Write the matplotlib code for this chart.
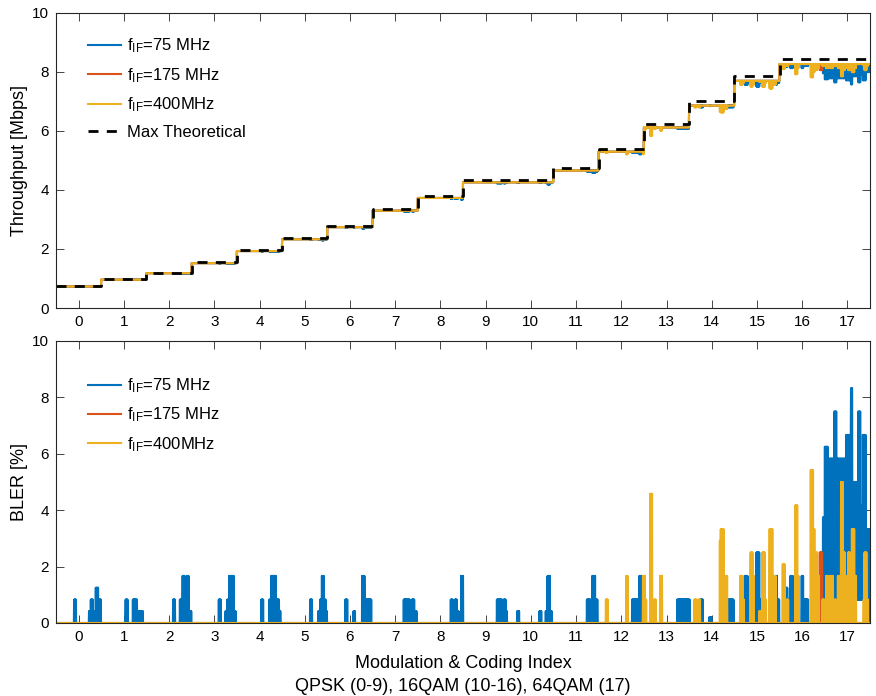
import numpy as np
import matplotlib
matplotlib.use("Agg")
import matplotlib.pyplot as plt

plt.rcParams['font.family'] = ['Liberation Sans', 'DejaVu Sans']
plt.rcParams['mathtext.fontset'] = 'custom'
plt.rcParams['mathtext.rm'] = 'Liberation Sans'
plt.rcParams['mathtext.it'] = 'Liberation Sans'

# ---------------- data ----------------
mcs_ticks = list(range(18))
theoretical = [0.75, 0.98, 1.20, 1.55, 1.97, 2.38, 2.79, 3.37, 3.80, 4.34,
               4.34, 4.75, 5.40, 6.25, 7.00, 7.86, 8.43, 8.43]
measured_level = [0.73, 0.96, 1.18, 1.52, 1.93, 2.33, 2.74, 3.30, 3.73, 4.26,
                  4.26, 4.66, 5.30, 6.12, 6.86, 7.70, 8.27, 8.27]

# BLER bursts (start MCS, end MCS, peak BLER %)
bler_75 = [
    (-0.10, -0.05, 0.83), (0.23, 0.27, 0.42), (0.27, 0.32, 0.83), (0.32, 0.38, 0.42),
    (0.38, 0.44, 1.25), (0.44, 0.50, 0.83),
    (1.04, 1.09, 0.83), (1.20, 1.30, 0.83), (1.32, 1.43, 0.42),
    (2.09, 2.14, 0.83), (2.24, 2.30, 0.83), (2.30, 2.35, 1.67), (2.35, 2.39, 0.83),
    (2.39, 2.44, 1.67), (2.44, 2.50, 0.42),
    (3.10, 3.15, 0.83), (3.25, 3.29, 0.42), (3.29, 3.33, 0.83), (3.33, 3.44, 1.67),
    (3.44, 3.48, 0.42),
    (4.04, 4.09, 0.83), (4.22, 4.26, 0.83), (4.26, 4.37, 1.67), (4.37, 4.44, 0.83),
    (4.44, 4.47, 0.42),
    (5.12, 5.17, 0.83), (5.30, 5.34, 0.42), (5.34, 5.38, 0.83), (5.38, 5.43, 1.67),
    (5.43, 5.47, 0.83), (5.47, 5.50, 0.42),
    (5.90, 5.95, 0.83), (6.08, 6.12, 0.42), (6.27, 6.33, 1.67), (6.33, 6.48, 0.83),
    (7.19, 7.33, 0.83), (7.37, 7.43, 0.83), (7.43, 7.48, 0.42),
    (8.23, 8.28, 0.83), (8.32, 8.37, 0.83), (8.37, 8.41, 0.42), (8.46, 8.51, 1.67),
    (9.25, 9.37, 0.83), (9.40, 9.45, 0.83), (9.45, 9.48, 0.42), (9.70, 9.75, 0.42),
    (10.19, 10.24, 0.42), (10.33, 10.37, 0.42), (10.37, 10.43, 1.67), (10.43, 10.47, 0.42),
    (11.24, 11.33, 0.83), (11.33, 11.36, 0.42), (11.36, 11.43, 1.67), (11.43, 11.48, 0.83),
    (12.24, 12.40, 0.83), (12.40, 12.45, 1.67), (12.45, 12.48, 0.83),
    (13.24, 13.52, 0.83), (13.75, 13.81, 0.83), (13.95, 14.00, 0.21),
    (14.36, 14.49, 0.83), (14.73, 14.80, 1.67), (14.99, 15.06, 2.50), (15.06, 15.12, 0.83),
    (15.41, 15.45, 1.67), (15.45, 15.50, 0.83), (15.63, 15.68, 1.25), (15.68, 15.73, 0.83),
    (15.74, 15.80, 1.67), (15.80, 15.85, 0.83), (15.99, 16.03, 1.67), (16.03, 16.14, 0.83),
    (16.28, 16.38, 0.83),
]
# dense BLER samples for 75 MHz, one every 0.01 MCS from 16.46
bler_75_dense_start = 16.46
bler_75_dense = [
    3.75, 0.83, 3.75, 0.83,
    6.25, 0.83, 6.25, 1.25, 6.25, 0.83, 6.25,
    0.83, 5.83, 0.83, 5.83, 1.25, 5.83, 0.83, 5.83, 0.83, 5.83, 0.83, 5.83, 0.83, 5.83,
    7.50, 0.83, 7.50, 0.83, 7.50, 0.83,
    5.83, 0.83, 5.83, 0.83, 5.83, 1.25, 5.83, 0.83, 5.83, 0.83, 5.83, 0.83, 5.83, 0.83,
    5.83, 1.25, 5.83, 0.83, 5.83, 0.83,
    6.67, 0.83, 6.67, 0.83, 6.67, 1.25, 6.67, 0.83, 6.67, 0.83, 6.67,
    8.33, 0.83, 8.33, 0.83,
    5.00, 0.83, 5.00, 0.83, 5.00, 1.25, 5.00, 0.83, 5.00, 0.83, 5.00, 0.83,
    7.50, 0.83, 7.50, 0.83, 7.50,
    0.83, 4.17, 0.83, 4.17, 0.83,
    6.67, 0.83, 6.67, 0.83, 6.67, 0.83, 6.67,
    0.83, 3.33, 0.83, 3.33, 0.83, 3.33, 0.83, 3.33, 0.00,
]
bler_175 = [(16.39, 16.45, 2.50)]
bler_400 = [
    (11.66, 11.71, 0.83), (12.11, 12.15, 1.67), (12.48, 12.53, 1.67), (12.53, 12.56, 0.83),
    (12.64, 12.69, 4.58), (12.73, 12.77, 0.83), (12.86, 12.91, 1.67),
    (13.62, 13.67, 0.83), (13.71, 13.75, 0.83),
    (14.18, 14.20, 2.92), (14.20, 14.27, 3.33), (14.27, 14.35, 1.67),
    (14.63, 14.69, 1.67), (14.69, 14.72, 0.83), (14.86, 14.91, 2.50), (14.91, 14.94, 1.67),
    (15.05, 15.10, 0.42), (15.12, 15.18, 2.50), (15.18, 15.21, 0.83),
    (15.28, 15.35, 3.33), (15.35, 15.42, 1.67), (15.57, 15.62, 2.08), (15.66, 15.70, 0.83),
    (15.85, 15.90, 4.17), (15.90, 15.93, 1.67),
    (16.19, 16.25, 5.42), (16.25, 16.28, 3.33), (16.28, 16.34, 2.50), (16.34, 16.38, 1.67),
    (16.45, 16.50, 0.83), (16.53, 16.58, 1.67), (16.62, 16.69, 1.67), (16.72, 16.75, 0.83),
    (16.79, 16.85, 1.67), (16.86, 16.91, 5.00), (16.91, 16.95, 2.50), (16.95, 16.98, 1.67),
    (17.02, 17.06, 2.50), (17.10, 17.16, 3.33), (17.16, 17.20, 1.67),
    (17.36, 17.38, 0.83), (17.38, 17.43, 2.50), (17.43, 17.46, 0.83),
]

labels = [r'$\mathrm{f_{IF}}$=75 MHz', r'$\mathrm{f_{IF}}$=175 MHz', r'$\mathrm{f_{IF}}$=400MHz']
colors = ['#0072BD', '#D95319', '#EDB120']

# ---------------- build series ----------------
x = np.round(np.arange(0, 3601) * 0.005 - 0.5, 4)


def build(events, dense=None, dense_start=None):
    """Samples: BLER bursts toggle between the burst value and 0 from one sample to the next."""
    y = np.zeros_like(x)
    for x0, x1, v in events:
        sel = np.where((x >= x0 - 1e-9) & (x < x1 - 1e-9))[0]
        y[sel] = v
        y[sel[1::2]] = 0.0
    if dense is not None:
        for k, v in enumerate(dense):
            p = dense_start + 0.01 * k
            y[(x >= p - 1e-9) & (x < p + 0.01 - 1e-9)] = v
    return y


bler_series = [build(bler_75, bler_75_dense, bler_75_dense_start),
               build(bler_175), build(bler_400)]
idx = np.clip(np.floor(x + 0.5).astype(int), 0, 17)
level = np.array(measured_level)[idx]
tp_series = [level * (1 - b / 100.0) for b in bler_series]

# ---------------- figure ----------------
fig = plt.figure(figsize=(8.76, 6.96), dpi=100)
ax1 = fig.add_axes([56 / 876, 1 - 308 / 696, 814 / 876, 295 / 696])
ax2 = fig.add_axes([56 / 876, 1 - 623 / 696, 814 / 876, 282 / 696])

for tp, c, lab in zip(tp_series, colors, labels):
    ax1.plot(x, tp, color=c, lw=1.5, label=lab)
edges = np.arange(19) - 0.5
ax1.step(edges, theoretical + [theoretical[-1]], where='post', color='black',
         lw=2.0, dashes=(3.6, 3.0), label='Max Theoretical')

for b, c, lab in zip(bler_series, colors, labels):
    ax2.plot(x, b, color=c, lw=1.5, label=lab)

for ax in (ax1, ax2):
    ax.set_xlim(-0.5, 17.5)
    ax.set_ylim(0, 10)
    ax.set_xticks(mcs_ticks)
    ax.set_yticks([0, 2, 4, 6, 8, 10])
    ax.tick_params(direction='in', top=True, right=True, length=5.5, width=0.6,
                   labelsize=11, colors='#262626', labelcolor='black', pad=5)
    for s in ax.spines.values():
        s.set_linewidth(0.8)
        s.set_color('#262626')

ax1.set_ylabel('Throughput [Mbps]', fontsize=13, labelpad=3)
ax2.set_ylabel('BLER [%]', fontsize=13, labelpad=3)
ax2.set_xlabel('Modulation & Coding Index\nQPSK (0-9), 16QAM (10-16), 64QAM (17)',
               fontsize=13, linespacing=1.45, labelpad=8)

leg_kw = dict(frameon=False, loc='upper left', fontsize=12, handlelength=2.0,
              handletextpad=0.35, labelspacing=0.64, borderaxespad=0)
ax1.legend(bbox_to_anchor=(0.031, 0.942), **leg_kw)
ax2.legend(bbox_to_anchor=(0.031, 0.898), **leg_kw)

fig.savefig('out.png', dpi=100)
